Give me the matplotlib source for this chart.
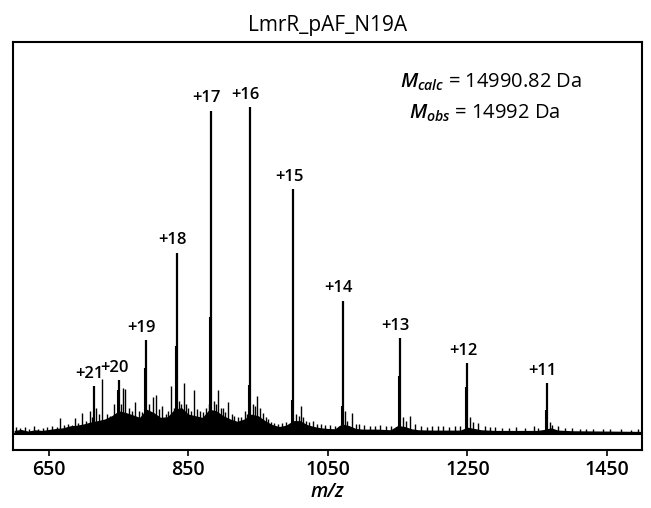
import numpy as np
import matplotlib
import matplotlib.pyplot as plt

matplotlib.use('Agg')

plt.rcParams['font.family'] = ['Open Sans', 'DejaVu Sans']
plt.rcParams['mathtext.fontset'] = 'custom'
plt.rcParams['mathtext.rm'] = 'Open Sans:semibold'
plt.rcParams['mathtext.it'] = 'Open Sans:italic:semibold'

# charge state peaks (m/z, relative intensity)
charges = ['+21', '+20', '+19', '+18', '+17', '+16', '+15', '+14', '+13', '+12', '+11']
peak_mz = [714.5, 750.4, 789.0, 833.5, 882.5, 938.0, 1000.5, 1071.5, 1153.5, 1250.0, 1364.0]
peak_int = [14.7, 16.4, 28.8, 55.5, 99.0, 100.0, 75.0, 40.8, 29.4, 21.5, 15.6]

# adduct shoulders right next to the main peaks
shoulder_mz = [749.0, 787.5, 832.0, 881.0, 936.5, 999.0, 1070.0, 1152.0, 1248.5, 1362.5]
shoulder_int = [13.5, 20.0, 27.0, 35.6, 15.0, 10.4, 8.4, 17.8, 14.4, 7.4]

# smaller peaks
minor_mz = [603, 608, 615, 622, 628, 634, 641, 647, 655, 661, 666, 672, 678, 683, 687,
            692, 697, 703, 709, 712, 718, 722, 726, 733, 738, 743.6, 753, 755.6, 759,
            765, 769, 773, 779, 784, 793, 798.7, 804, 808, 811.6, 818, 821, 824.5, 829,
            836, 839, 843.5, 847, 850, 854, 858, 862, 866, 871, 875, 879, 886, 889,
            892.7, 896, 899, 903, 907, 912, 916, 921, 926, 931, 934, 942, 945, 947.8,
            952, 957, 961, 964, 969, 973, 978, 984, 990, 995, 1004, 1008, 1012, 1015,
            1018, 1023, 1029, 1034, 1040, 1046, 1053, 1060, 1066, 1075, 1078, 1084.5,
            1090, 1095, 1102, 1110, 1118, 1125, 1133, 1141, 1147, 1158, 1162, 1168,
            1175, 1184, 1192, 1200, 1208, 1215, 1224, 1232, 1240, 1254, 1258, 1265.5,
            1275, 1283, 1290, 1300, 1310, 1320, 1333, 1345, 1352, 1368, 1372, 1380,
            1390, 1400, 1412, 1420, 1430, 1445, 1455, 1470, 1485, 1495]
minor_int = [2.0, 1.6, 1.9, 1.4, 2.2, 1.5, 1.8, 2.0, 2.4, 2.1, 4.8, 2.6, 3.0, 2.8, 4.9,
             3.4, 6.4, 4.0, 7.0, 5.0, 8.0, 6.0, 16.9, 6.0, 5.5, 9.2, 9.0, 14.0, 13.8,
             8.0, 7.0, 9.8, 7.0, 6.5, 9.0, 11.3, 12.0, 7.5, 8.4, 6.0, 7.0, 14.5, 8.0,
             10.0, 9.0, 15.6, 9.0, 8.0, 7.0, 13.5, 7.5, 7.0, 6.5, 8.0, 9.0, 10.0, 9.0,
             13.3, 8.0, 8.0, 6.5, 9.6, 6.0, 5.5, 5.0, 5.0, 7.0, 6.0, 9.0, 8.5, 11.4,
             8.0, 6.4, 5.0, 4.5, 3.5, 3.2, 3.0, 3.2, 3.5, 3.0, 6.0, 5.5, 8.5, 5.0,
             4.0, 3.5, 4.0, 3.0, 3.0, 2.6, 2.8, 2.4, 2.2, 7.0, 4.0, 6.4, 3.0, 3.0,
             2.6, 2.5, 2.3, 2.8, 2.2, 2.4, 2.0, 5.0, 4.0, 5.5, 3.0, 2.2, 2.0, 2.5,
             2.2, 2.3, 2.0, 2.5, 2.2, 5.0, 3.5, 3.3, 2.2, 2.0, 2.0, 1.8, 1.8, 2.0,
             1.7, 2.5, 1.8, 3.5, 2.6, 2.4, 1.6, 1.8, 1.5, 1.4, 1.5, 1.4, 1.3, 1.5,
             1.2, 1.3]

# noise floor of the spectrum
floor_mz = [600, 610, 620, 630, 640, 650, 660, 670, 680, 690, 700, 710, 720, 730, 740,
            750, 760, 770, 780, 790, 800, 810, 820, 830, 840, 850, 860, 870, 880, 890,
            900, 910, 920, 930, 940, 950, 960, 970, 980, 990, 1000, 1010, 1020, 1030,
            1040, 1050, 1060, 1070, 1080, 1090, 1100, 1120, 1140, 1150, 1160, 1170,
            1180, 1200, 1220, 1240, 1250, 1260, 1270, 1290, 1320, 1350, 1360, 1370,
            1380, 1400, 1450, 1500]
floor_int = [1.0, 1.3, 0.8, 1.2, 1.0, 1.3, 1.6, 1.8, 2.4, 2.6, 3.0, 3.6, 4.0, 4.5, 5.5,
             7.0, 6.5, 5.8, 5.0, 7.5, 6.5, 5.0, 5.2, 7.5, 8.0, 6.0, 5.5, 5.0, 7.5, 7.0,
             5.5, 4.5, 3.8, 4.5, 6.0, 5.5, 4.0, 2.8, 2.2, 2.6, 4.0, 4.0, 2.8, 2.2,
             1.8, 1.6, 1.5, 3.0, 2.5, 1.6, 1.4, 1.4, 1.2, 2.5, 2.2, 1.5,
             1.2, 1.1, 1.1, 1.1, 2.0, 1.6, 1.2, 1.0, 1.0, 1.0, 1.3, 1.8,
             1.1, 0.9, 0.8, 0.7]

fig = plt.figure(figsize=(6.51, 5.08), dpi=100)
ax = fig.add_axes([0.0195, 0.1142, 0.9662, 0.8031])

ax.fill_between(floor_mz, 0, floor_int, color='black', lw=0)
ax.vlines(minor_mz, 0, minor_int, color='black', lw=1.0)
ax.vlines(shoulder_mz, 0, shoulder_int, color='black', lw=1.5)
ax.vlines(peak_mz, 0, peak_int, color='black', lw=1.6)
ax.axhline(0, color='black', lw=1.5)

for lab, x, y in zip(charges, peak_mz, peak_int):
    ax.annotate(lab, (x, y), xytext=(-3, 3), textcoords='offset points',
                ha='center', va='bottom', fontsize=12, fontweight='semibold')

ax.text(0.905, 0.9, r'$M_{calc}$ = 14990.82 Da', transform=ax.transAxes,
        ha='right', va='center', fontsize=14.5)
ax.text(0.87, 0.825, r'$M_{obs}$ = 14992 Da', transform=ax.transAxes,
        ha='right', va='center', fontsize=14.5)

ax.set_xlim(598, 1500)
ax.set_ylim(-5, 120)
ax.set_xticks([650, 850, 1050, 1250, 1450])
ax.set_yticks([])
ax.tick_params(axis='x', labelsize=14, width=1.2, length=4)
for t in ax.get_xticklabels():
    t.set_fontweight('semibold')
for s in ax.spines.values():
    s.set_linewidth(1.5)
ax.set_xlabel('m/z', fontsize=14, style='italic', fontweight='semibold', labelpad=1)
ax.set_title('LmrR_pAF_N19A', fontsize=15, pad=8)

fig.savefig('out.png', dpi=100)
